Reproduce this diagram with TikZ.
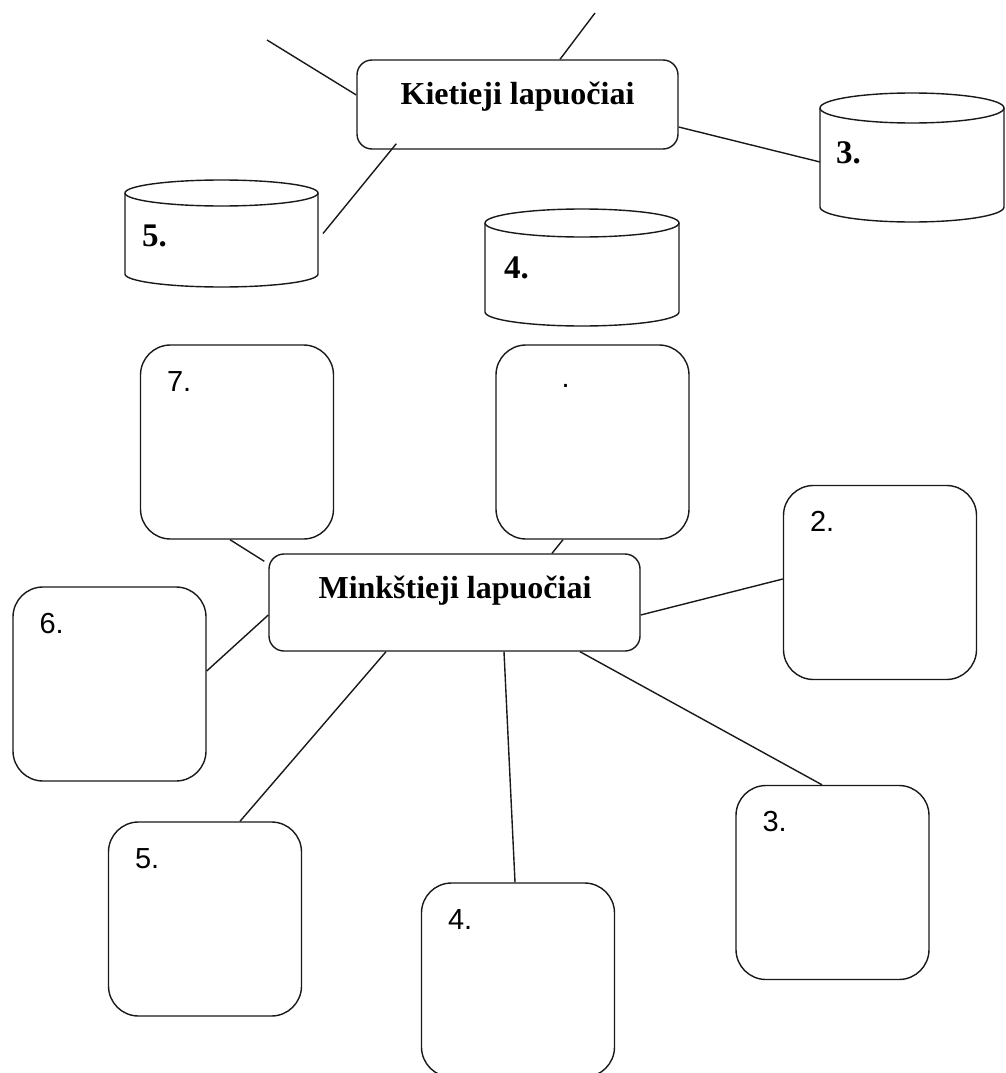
\documentclass[tikz,border=0pt]{standalone}
\usepackage{fontspec}
\setmainfont{Liberation Serif}
\newfontfamily\labelsans{Liberation Sans}
\usetikzlibrary{calc}

% drum: name, left, top-ellipse centre y, right, bottom-ellipse centre y, ellipse y radius
\newcommand\drum[6]{%
  \node[drumbody, minimum width={(#4-#2)*1pt}, minimum height={(#5-#3)*1pt}]
    (#1) at ({(#2+#4)/2},{(#3+#5)/2}) {};
  \draw[edge] ({(#2+#4)/2},#3) ellipse [x radius={(#4-#2)/2}, y radius=#6];
  \draw[edge] (#2,#3) -- (#2,#5)
    arc [start angle=180, end angle=0, x radius={(#4-#2)/2}, y radius=#6] -- (#4,#3);
}

\begin{document}
\begin{tikzpicture}[x=1pt,y=-1pt,
  edge/.style={line width=1.4pt, draw=black!90},
  hub/.style={draw=black!90, line width=1.4pt, rounded corners=15pt, inner sep=0pt},
  card/.style={draw=black!90, line width=1.4pt, rounded corners=30pt,
    minimum width=193pt, minimum height=194pt, inner sep=0pt},
  drumbody/.style={inner sep=0pt, outer sep=0pt},
  title/.style={font=\bfseries\fontsize{32}{36}\selectfont, anchor=base, inner sep=0pt},
  bnum/.style={font=\bfseries\fontsize{33}{36}\selectfont, anchor=base west, inner sep=0pt},
  snum/.style={font=\labelsans\fontsize{29}{34}\selectfont, anchor=base west, inner sep=0pt},
]
\clip (0,0) rectangle (1006,1073);
\fill[white] (0,0) rectangle (1006,1073);

% hard-leaved branch
\node[hub, minimum width=321pt, minimum height=89pt] (kt) at (517.5,104.5) {};
\node[title] (kttext) at (517.5,104) {Kietieji lapuočiai};

\drum{c3}{820}{108}{1004}{207}{15}
\drum{c4}{485}{223}{679}{312}{14}
\drum{c5}{125}{193}{318}{274}{13}
\node[bnum] (c3n) at ($(c3.north west)+(16,55)$) {3.};
\node[bnum] (c4n) at ($(c4.north west)+(19,55)$) {4.};
\node[bnum] (c5n) at ($(c5.north west)+(17,53)$) {5.};

\coordinate (ktA) at (267,40);
\coordinate (ktB) at (595,13);
\draw[edge] (ktA) -- ($(kt.west)+(0,-9.5)$);
\draw[edge] ($(kt.north)+(42.5,0)$) -- (ktB);
\draw[edge] ($(kt.east)+(0,22.5)$) -- ($(c3.west)+(0,4.5)$);
\draw[edge] ($(kt.south west)+(40,-6)$) -- ($(c5.east)+(5,0)$);

% soft-leaved branch
\node[hub, minimum width=371pt, minimum height=97pt] (mk) at (454.5,602.5) {};
\node[title] (mktext) at (455,598) {Minkštieji lapuočiai};

\node[card] (b7) at (237,442) {};
\node[card] (bx) at (592.5,442) {};
\node[card] (b2) at (880,582.5) {};
\node[card] (b6) at (109.5,684) {};
\node[card] (b5) at (205,919) {};
\node[card] (b4) at (518,980) {};
\node[card] (b3) at (832.5,882.5) {};

\node[snum] (b7n) at ($(b7.north west)+(27,47)$) {7.};
\node[snum] (bxn) at ($(bx.north west)+(66,43)$) {.};
\node[snum] (b2n) at ($(b2.north west)+(27,47)$) {2.};
\node[snum] (b6n) at ($(b6.north west)+(27,47)$) {6.};
\node[snum] (b5n) at ($(b5.north west)+(27,47)$) {5.};
\node[snum] (b4n) at ($(b4.north west)+(27,47)$) {4.};
\node[snum] (b3n) at ($(b3.north west)+(27,47)$) {3.};

\draw[edge] ($(b7.south)+(-7,0)$) -- ($(mk.north west)+(-4,8)$);
\draw[edge] ($(bx.south)+(-29.5,0)$) -- ($(mk.north)+(97.5,0)$);
\draw[edge] ($(mk.west)+(0,12.5)$) -- ($(b6.east)+(0,-13)$);
\draw[edge] ($(mk.east)+(0,12.5)$) -- ($(b2.west)+(0,-3.5)$);
\draw[edge] ($(mk.south)+(-68.5,0)$) -- ($(b5.north)+(35,0)$);
\draw[edge] ($(mk.south)+(49.5,0)$) -- ($(b4.north)+(-3,0)$);
\draw[edge] ($(mk.south)+(125.5,0)$) -- ($(b3.north)+(-10.5,0)$);
\end{tikzpicture}
\end{document}
